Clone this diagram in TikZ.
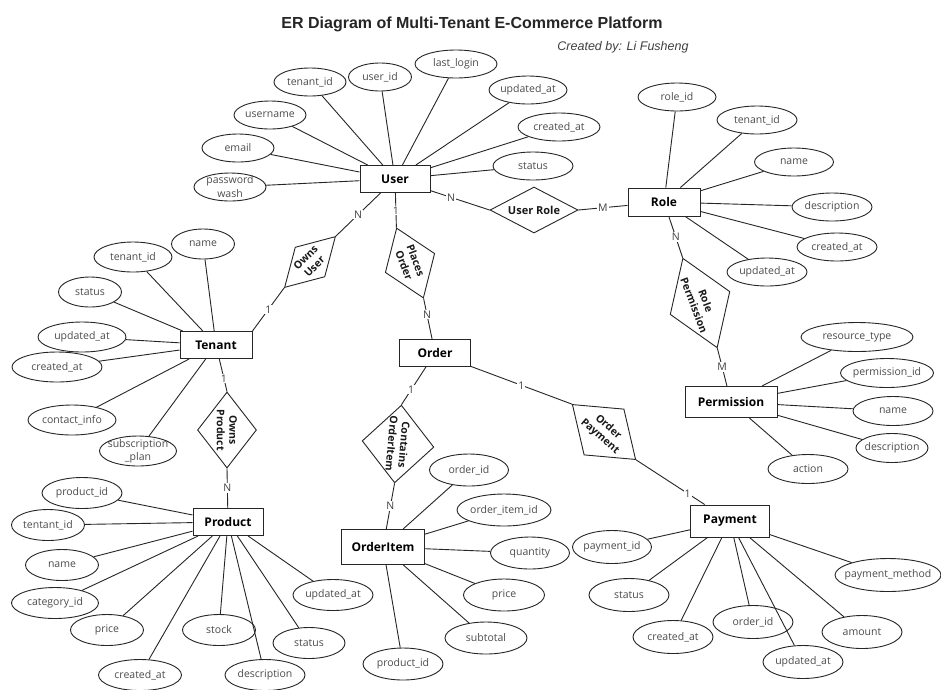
\documentclass[tikz,border=0pt]{standalone}
\usepackage{fontspec}
\setmainfont{Open Sans}
\newfontfamily\titlefont{Liberation Sans}
\usetikzlibrary{shapes.geometric, positioning}

\begin{document}
\begin{tikzpicture}[x=1pt, y=-1pt,
    entity/.style={rectangle, draw=black!85, line width=1pt, inner sep=0pt, minimum height=27, font=\fontsize{12}{14}\selectfont\bfseries},
    rel/.style={diamond, draw=black!85, line width=0.9pt, inner sep=0pt, align=center, text=black!90, font=\fontsize{10.5}{12.5}\selectfont\bfseries},
    attr/.style={ellipse, draw=black!85, line width=0.9pt, inner sep=0pt, minimum height=28, label={[attrtxt]center:#1}},
    attrtxt/.style={align=center, text=black!70, font=\fontsize{10.5}{11}\selectfont},
    card/.style={fill=white, inner sep=1pt, text=black!75, font=\fontsize{10.5}{10.5}\selectfont},
    link/.style={draw=black!85, line width=0.9pt}]

    \fill[white] (0,0) rectangle (941,689);
    \useasboundingbox (0,0) rectangle (941,689);

    \node[font=\titlefont\fontsize{16}{18}\selectfont\bfseries, text=black!85] (title) at (472,24) {ER Diagram of Multi-Tenant E-Commerce Platform};
    \node[font=\titlefont\fontsize{12.5}{14}\selectfont\itshape, text=black!75] (credit) at (623,47) {Created by: Li Fusheng};

    \node[entity, minimum width=70] (user) at (395,179) {User};
    \node[entity, minimum width=72, minimum height=28] (role) at (664,202) {Role};
    \node[entity, minimum width=72] (tenant) at (216,345) {Tenant};
    \node[entity, minimum width=71] (order) at (435,353) {Order};
    \node[entity, minimum width=92, minimum height=31] (perm) at (731,402) {Permission};
    \node[entity, minimum width=70] (product) at (228,522) {Product};
    \node[entity, minimum width=83, minimum height=35] (item) at (383,547) {OrderItem};
    \node[entity, minimum width=79, minimum height=32] (payment) at (730,521) {Payment};

    \node[rel, minimum width=88, minimum height=46, shape aspect=1.9, font=\fontsize{11}{12}\selectfont\bfseries] (userrole) at (534,210) {User Role};
    \node[rel, minimum width=72, minimum height=42, shape aspect=1.7, rotate=45] (ownsuser) at (310,262) {Owns\\User};
    \node[rel, minimum width=75, minimum height=53, shape aspect=1.4, rotate=-69] (places) at (410,263) {Places\\Order};
    \node[rel, minimum width=96, minimum height=64, shape aspect=1.5, rotate=-69] (roleperm) at (700,303) {Role\\Permission};
    \node[rel, minimum width=76, minimum height=59, shape aspect=1.3, rotate=-90] (ownsprod) at (227,430) {Owns\\Product};
    \node[rel, minimum width=78, minimum height=72, shape aspect=1.1, rotate=-95] (contains) at (398,444) {Contains\\OrderItem};
    \node[rel, minimum width=84, minimum height=61, shape aspect=1.4, rotate=-41] (orderpay) at (604,432) {Order\\Payment};

    \draw[link] (user) -- node[card]{N} (ownsuser.east);
    \draw[link] (ownsuser.west) -- node[card]{1} (tenant.north east);
    \draw[link] (user) -- node[card]{1} (places.west);
    \draw[link] (places.east) -- node[card, pos=0.4]{N} (order);
    \draw[link] (user) -- node[card, pos=0.35]{N} (userrole.west);
    \draw[link] (userrole.east) -- node[card]{M} (role);
    \draw[link] (role) -- node[card]{N} (roleperm.west);
    \draw[link] (roleperm.east) -- node[card]{M} (perm);
    \draw[link] (tenant) -- node[card, pos=0.6]{1} (ownsprod.west);
    \draw[link] (ownsprod.east) -- node[card]{N} (product);
    \draw[link] (order) -- node[card, pos=0.6]{1} (contains.west);
    \draw[link] (contains.east) -- node[card]{N} (item);
    \draw[link] (order) -- node[card]{1} (orderpay.west);
    \draw[link] (orderpay.east) -- node[card, pos=0.75]{1} (payment);

    \foreach \n/\x/\y/\w/\lbl in {tid/310/82/72/tenant\_id, uid/380/77/63/user\_id, ll/456/64/82/last\_login,
        upd/528/90/78/updated\_at, crt/559/127/82/created\_at, st/533/166/80/status,
        un/270/115/72/username, em/238/148/72/email, pw/230/187/72/{password\\[3pt]wash}}{
        \node[attr=\lbl, minimum width=\w] (u-\n) at (\x,\y) {};
        \draw[link] (user) -- (u-\n);
    }

    \foreach \n/\x/\y/\w/\lbl in {rid/677/97/78/role\_id, tid/757/120/80/tenant\_id, nm/794/162/79/name,
        ds/832/207/80/description, crt/837/247/80/created\_at, upd/767/272/80/updated\_at}{
        \node[attr=\lbl, minimum width=\w] (r-\n) at (\x,\y) {};
        \draw[link] (role) -- (r-\n);
    }

    \foreach \n/\x/\y/\w/\lbl in {tid/133/257/78/tenant\_id, nm/203/244/63/name, st/90/292/63/status,
        upd/82/337/88/updated\_at, crt/57/367/90/created\_at, ci/72/420/88/contact\_info,
        sp/138/451/77/{subscription\\[2pt]\_plan}}{
        \node[attr=\lbl, minimum width=\w, minimum height=30] (t-\n) at (\x,\y) {};
        \draw[link] (tenant) -- (t-\n);
    }

    \foreach \n/\x/\y/\w/\lbl in {pid/82/493/80/product\_id, tid/48/525/73/tentant\_id, nm/62/565/73/name,
        cat/55/603/87/category\_id, pr/107/630/73/price, stk/219/630/73/stock, crt/140/675/83/created\_at,
        ds/265/675/80/description, st/309/643/72/status, upd/333/595/80/updated\_at}{
        \node[attr=\lbl, minimum width=\w, minimum height=31] (p-\n) at (\x,\y) {};
        \draw[link] (product) -- (p-\n);
    }

    \foreach \n/\x/\y/\w/\lbl in {oid/469/470/79/order\_id, iid/504/510/94/order\_item\_id, qty/530/553/79/quantity,
        pr/504/595/81/price, sub/486/638/82/subtotal, pid/403/664/80/product\_id}{
        \node[attr=\lbl, minimum width=\w, minimum height=32] (i-\n) at (\x,\y) {};
        \draw[link] (item) -- (i-\n);
    }

    \foreach \n/\x/\y/\w/\lbl in {rt/857/337/112/resource\_type, pid/887/373/93/permission\_id, nm/893/411/80/name,
        ds/892/448/72/description, act/808/469/80/action}{
        \node[attr=\lbl, minimum width=\w, minimum height=29] (m-\n) at (\x,\y) {};
        \draw[link] (perm) -- (m-\n);
    }

    \foreach \n/\x/\y/\w/\lbl in {pid/612/547/79/payment\_id, st/629/595/80/status, crt/673/637/80/created\_at,
        oid/753/622/80/order\_id, upd/803/662/80/updated\_at, amt/862/632/80/amount, pm/888/575/106/payment\_method}{
        \node[attr=\lbl, minimum width=\w, minimum height=33] (y-\n) at (\x,\y) {};
        \draw[link] (payment) -- (y-\n);
    }
\end{tikzpicture}
\end{document}
